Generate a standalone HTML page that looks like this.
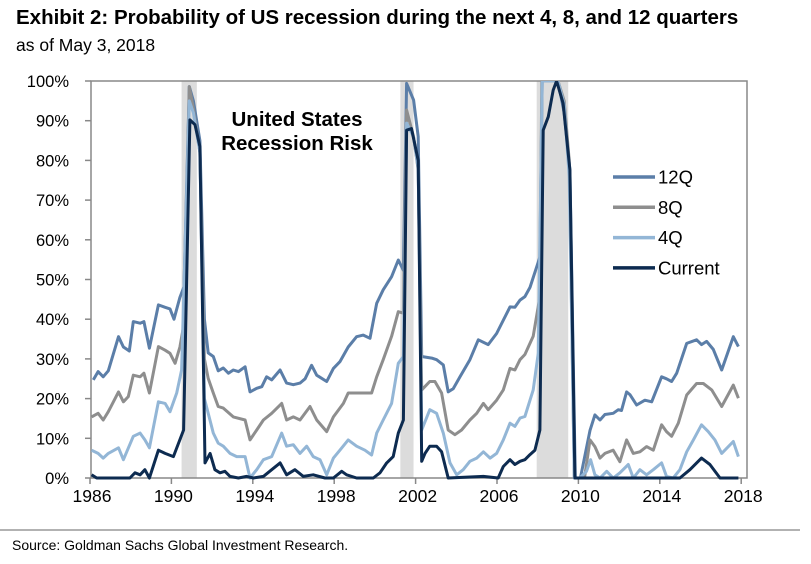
<!DOCTYPE html>
<html><head><meta charset="utf-8"><style>
body{margin:0;background:#fff;width:811px;height:559px;overflow:hidden;font-family:"Liberation Sans",Arial,sans-serif}
</style></head><body>
<svg id="chart" width="811" height="559" xmlns="http://www.w3.org/2000/svg" font-family="Liberation Sans, Arial, sans-serif">
<text x="16" y="24" font-size="20.5" font-weight="bold" fill="#000">Exhibit 2: Probability of US recession during the next 4, 8, and 12 quarters</text>
<text x="16" y="51" font-size="17.5" fill="#000">as of May 3, 2018</text>
<g id="plot"></g>
<line x1="0" y1="530" x2="800" y2="530" stroke="#999" stroke-width="1.5"/>
<text x="12" y="550" font-size="14" fill="#000">Source: Goldman Sachs Global Investment Research.</text>
</svg>
<script>
const recessions=[[1990.5,1991.25],[2001.25,2001.9],[2007.95,2009.5]];
const yTicks=[0,10,20,30,40,50,60,70,80,90,100];
const xTicks=[1986,1990,1994,1998,2002,2006,2010,2014,2018];
const years12=[1986.16,1986.4,1986.65,1986.9,1987.4,1987.64,1987.93,1988.13,1988.46,1988.65,1988.92,1989.36,1989.69,1989.93,1990.13,1990.42,1990.62,1990.88,1991.08,1991.4,1991.62,1991.81,1992.06,1992.3,1992.55,1992.8,1993.04,1993.29,1993.62,1993.86,1994.19,1994.44,1994.68,1994.93,1995.34,1995.66,1995.99,1996.32,1996.57,1996.89,1997.14,1997.63,1997.96,1998.28,1998.69,1999.1,1999.43,1999.76,2000.09,2000.41,2000.82,2001.15,2001.4,2001.56,2001.9,2002.13,2002.3,2002.79,2003.03,2003.36,2003.6,2003.85,2004.18,2004.67,2005.08,2005.57,2005.98,2006.64,2006.88,2007.13,2007.37,2007.62,2007.95,2008.11,2008.22,2008.6,2009.0,2009.3,2009.58,2009.85,2010.1,2010.57,2010.81,2011.06,2011.3,2011.71,2011.96,2012.12,2012.37,2012.53,2012.86,2013.27,2013.6,2014.09,2014.33,2014.58,2014.83,2015.32,2015.81,2016.05,2016.3,2016.63,2017.04,2017.61,2017.86];
const vals12=[24.7,26.8,25.5,27,35.6,33,32,39.4,39,39.4,32.7,43.6,43,42.6,40,45.5,48.2,98.6,95,85,40,31.5,30.6,27,27.7,26.4,27.2,26.8,28,21.7,22.6,23,25.5,24.7,27.2,23.9,23.5,23.9,25,28.4,25.9,24.3,27.6,29.3,33,35.6,36,35.2,44,47.4,50.7,54.9,52.3,99.4,95.2,86,30.6,30.2,29.8,28.5,21.7,22.5,25.5,29.8,34.8,33.6,36.4,43.1,43,44.8,45.7,48,53.2,55.7,100,100,100,92,77.6,0,0,12,15.9,14.6,16,16.3,17.2,17,21.7,21,18.4,19.6,19.2,25.5,25,24.3,26.4,33.9,34.8,33.6,34.4,32.4,27.2,35.6,33.1];
const years8=[1986.08,1986.4,1986.65,1986.9,1987.4,1987.64,1987.88,1988.13,1988.46,1988.65,1988.92,1989.36,1989.69,1989.93,1990.18,1990.42,1990.62,1990.88,1991.08,1991.4,1991.62,1991.81,1992.06,1992.3,1992.55,1993.04,1993.62,1993.86,1994.19,1994.52,1994.93,1995.42,1995.66,1995.99,1996.32,1996.81,1997.14,1997.63,1997.96,1998.45,1998.69,1999.1,1999.84,2000.09,2000.41,2000.82,2001.15,2001.4,2001.56,2001.9,2002.13,2002.3,2002.7,2002.95,2003.28,2003.6,2003.93,2004.26,2004.67,2005.0,2005.33,2005.57,2005.98,2006.31,2006.64,2006.88,2007.13,2007.37,2007.78,2008.11,2008.2,2008.6,2009.0,2009.3,2009.55,2009.8,2010.3,2010.57,2010.81,2011.06,2011.3,2011.71,2012.04,2012.37,2012.7,2013.02,2013.35,2013.68,2014.09,2014.33,2014.58,2014.91,2015.32,2015.81,2016.14,2016.55,2017.04,2017.61,2017.86];
const vals8=[15.4,16.3,14.6,16.7,21.7,19.2,20.5,25.9,25.5,26.4,21.4,33.1,32.2,31.4,28.9,33,38.9,98.6,93,82,30,25.1,21.4,18,17.6,15.4,14.6,9.6,12.1,14.6,16.3,18.8,14.6,15.4,14.6,18,14.6,11.7,15.4,18.8,21.4,21.4,21.4,25.5,29.8,35.7,41.9,41.5,92.7,85.9,77.6,22.2,24.3,24.3,21.4,12.1,10.9,12.1,14.6,16.3,18.8,17.2,19.6,22.2,27.6,27.2,29.8,31.1,35.7,45.7,100,100,100,95,80,0,0,9.6,7.9,5,6.2,7,4.1,9.6,6.2,6.6,7.9,7,13.4,11.7,10.5,13.8,20.9,23.8,23.8,22.2,18,23.4,20.1];
const years4=[1986.08,1986.4,1986.65,1986.9,1987.4,1987.64,1988.13,1988.46,1988.7,1988.92,1989.36,1989.69,1989.93,1990.26,1990.5,1990.88,1991.08,1991.4,1991.62,1991.81,1992.06,1992.3,1992.55,1992.88,1993.21,1993.62,1993.86,1994.19,1994.52,1994.93,1995.42,1995.66,1995.99,1996.32,1996.65,1996.97,1997.3,1997.63,1997.96,1998.28,1998.69,1999.1,1999.51,1999.84,2000.09,2000.41,2000.82,2001.15,2001.4,2001.56,2001.9,2002.13,2002.3,2002.7,2003.03,2003.36,2003.69,2004.02,2004.34,2004.67,2005.0,2005.33,2005.66,2005.98,2006.31,2006.64,2006.88,2007.13,2007.37,2007.78,2008.03,2008.22,2008.6,2009.0,2009.3,2009.55,2009.8,2010.07,2010.4,2010.6,2010.81,2011.06,2011.39,2011.71,2012.04,2012.45,2012.7,2013.02,2013.35,2013.68,2014.09,2014.33,2014.66,2014.99,2015.32,2015.65,2016.05,2016.38,2016.71,2017.04,2017.61,2017.86];
const vals4=[7,6.2,5,6.2,7.6,4.6,10.5,11.3,9.6,7.6,19.2,18.8,16.7,21.4,27.2,95,92,82,20,16.3,11.3,8.8,8,6.2,5.4,5.4,0,2.1,4.6,5.4,11.3,8,8.4,6.2,8,5.4,4.6,0.8,5,7,9.6,8,7,5.8,11.3,14.6,18.8,28.9,30.6,89.4,85.9,78,12.1,17.2,16.3,11.3,3.8,0.8,2.1,4.2,5,6.6,5,6.2,9.6,13.8,13,15.1,15.5,22.2,31.5,100,100,100,94,76,0,0,1.7,4.6,0.8,0,1.7,0,1.3,3.4,0,2.1,0.8,2.1,3.8,0.4,0,2.1,6.6,9.6,13.4,11.7,9.6,6.2,9.2,5.4];
const yearsC=[1986.08,1986.33,1987.96,1988.21,1988.46,1988.7,1988.92,1989.36,1989.69,1990.1,1990.6,1990.91,1991.16,1991.4,1991.65,1991.9,1992.14,1992.39,1992.63,1992.88,1993.29,1993.7,1994.03,1994.52,1994.93,1995.34,1995.66,1996.07,1996.48,1996.97,1997.55,1997.96,1998.37,1998.61,1999.1,1999.92,2000.25,2000.58,2000.9,2001.15,2001.4,2001.56,2001.8,2002.13,2002.3,2002.46,2002.7,2003.03,2003.28,2003.6,2005.33,2006.06,2006.31,2006.64,2006.88,2007.13,2007.37,2007.62,2007.86,2008.11,2008.27,2008.52,2008.76,2008.93,2009.25,2009.58,2009.83,2014.99,2015.48,2016.05,2016.46,2016.96,2017.86];
const valsC=[0.8,0,0,1.3,0.8,2.1,0,7,6.2,5.4,12.1,90.2,89,83.5,3.8,6.2,2.1,1.3,1.7,0.4,0,0.4,0,0.4,2.1,3.8,0.8,2.1,0.4,0.8,0,0,1.7,0.8,0,0,1.3,3.8,5.4,11.3,14.6,87.6,88,80,4.2,6.2,8,8,6.6,0,0.4,0,2.9,4.6,3.4,4.2,4.6,5.9,7,12.1,87.6,91,97.7,100,94.4,77.6,0,0,2.1,5,3.4,0,0];

const L=91,R=747,T=81,B=478;
function X(y){return 90+(y-1986)*20.35;}
function Y(v){return B-v*(B-T)/100;}
const NS="http://www.w3.org/2000/svg";
const g=document.getElementById('plot');
function mk(tag,attrs){const e=document.createElementNS(NS,tag);for(const k in attrs)e.setAttribute(k,attrs[k]);g.appendChild(e);return e;}
recessions.forEach(r=>{
  const e=mk('rect',{x:X(r[0]),y:T,width:X(r[1])-X(r[0]),height:B-T,fill:'#dcdcdc'});
  
  
});
const frame=mk('rect',{x:L,y:T,width:R-L,height:B-T,fill:'none',stroke:'#888','stroke-width':1.5});


yTicks.forEach(v=>{
  const t=mk('line',{x1:L-6,x2:L,y1:Y(v),y2:Y(v),stroke:'#888','stroke-width':1.5});
  
  
  const tx=mk('text',{x:69,y:Y(v)+6,'text-anchor':'end','font-size':16.5,fill:'#000'});
  tx.textContent=v+'%';
  
  
});
xTicks.forEach(yr=>{
  const t=mk('line',{x1:X(yr),x2:X(yr),y1:B,y2:B+6,stroke:'#888','stroke-width':1.5});
  
  
  const tx=mk('text',{x:X(yr)+2,y:B+24,'text-anchor':'middle','font-size':17.5,fill:'#000'});
  tx.textContent=yr;
  
  
});
const clip=document.createElementNS(NS,'clipPath');clip.setAttribute('id','pc');
const cr=document.createElementNS(NS,'rect');cr.setAttribute('x',L);cr.setAttribute('y',T);cr.setAttribute('width',R-L);cr.setAttribute('height',B-T+2);
clip.appendChild(cr);g.appendChild(clip);
const series=[['12Q',years12,vals12,'#5b7ea8'],['8Q',years8,vals8,'#8e8e8e'],['4Q',years4,vals4,'#93b6d6'],['Current',yearsC,valsC,'#0d2b50']];
series.forEach(s=>{
  const d=s[1].map((yr,i)=>(i?'L':'M')+X(yr).toFixed(1)+','+Y(s[2][i]).toFixed(1)).join('');
  const p=mk('path',{d:d,fill:'none',stroke:s[3],'stroke-width':3,'stroke-linejoin':'round','clip-path':'url(#pc)'});
  
  
});
series.forEach((s,i)=>{
  const yy=177+i*30.3;
  const l=mk('line',{x1:613,x2:655,y1:yy,y2:yy,stroke:s[3],'stroke-width':3.5});
  
  
  const t=mk('text',{x:658,y:yy+6.5,'font-size':18.5,fill:'#000'});
  t.textContent=s[0];
  
  
});
const a1=mk('text',{x:297,y:126,'text-anchor':'middle','font-size':20.5,'font-weight':'bold',fill:'#000'});
a1.textContent='United States';


const a2=mk('text',{x:297,y:150,'text-anchor':'middle','font-size':20.5,'font-weight':'bold',fill:'#000'});
a2.textContent='Recession Risk';


</script>
</body></html>
